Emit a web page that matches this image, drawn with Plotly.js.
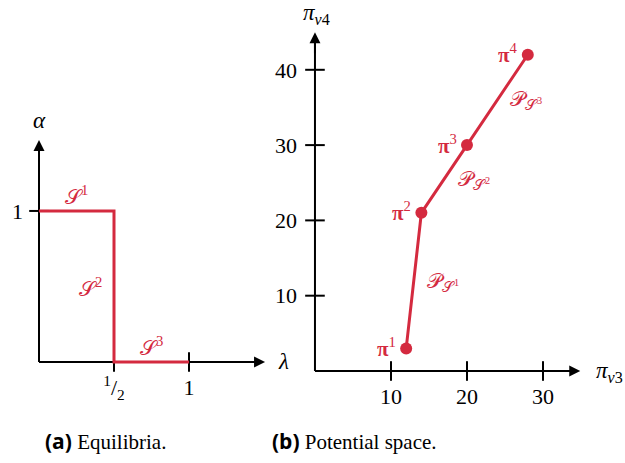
<!DOCTYPE html>
<html>
<head>
<meta charset="utf-8">
<script src="https://cdn.plot.ly/plotly-3.0.1.min.js"></script>
<style>html,body{margin:0;padding:0;background:#fff;}#chart{width:625px;height:463px;}</style>
</head>
<body>
<div id="chart"></div>
<script>
// ---- data ----
const lambdaVals = [0, 0.5, 0.5, 1];
const alphaVals = [1, 1, 0, 0];
const leftXTicks = [0.5, 1];
const leftXTickText = ['<sup>1</sup>/<sub>2</sub>', '1'];
const leftYTicks = [1];
const leftYTickText = ['1'];
const segLabels = ['𝒮<sup>1</sup>', '𝒮<sup>2</sup>', '𝒮<sup>3</sup>'];
const segLabelX = [0.16, 0.25, 0.66];
const segLabelY = [1.10, 0.49, 0.10];

const piV3 = [12, 14, 20, 28];
const piV4 = [3, 21, 30, 42];
const pointLabels = ['π', 'π', 'π', 'π'];
const pointSup = ['1', '2', '3', '4'];
const rightXTicks = [10, 20, 30];
const rightYTicks = [10, 20, 30, 40];
const polyLabels = ['𝒫<sub>𝒮<sup>1</sup></sub>', '𝒫<sub>𝒮<sup>2</sup></sub>', '𝒫<sub>𝒮<sup>3</sup></sub>'];
const polyLabelX = [14.5, 18.5, 25.4];
const polyLabelY = [11.8, 25.4, 36.0];

const RED = '#d42a3f';
const SERIF = 'Liberation Serif';

const traces = [
  {x: leftXTicks, y: leftXTicks.map(() => 0), xaxis: 'x', yaxis: 'y', mode: 'markers',
   marker: {symbol: 'line-ns', size: 14, line: {width: 2, color: '#000'}}, hoverinfo: 'skip'},
  {x: leftYTicks.map(() => 0), y: leftYTicks, xaxis: 'x', yaxis: 'y', mode: 'markers',
   marker: {symbol: 'line-ew', size: 14, line: {width: 2, color: '#000'}}, hoverinfo: 'skip'},
  {x: rightXTicks, y: rightXTicks.map(() => 0), xaxis: 'x2', yaxis: 'y2', mode: 'markers',
   marker: {symbol: 'line-ns', size: 14, line: {width: 2, color: '#000'}}, hoverinfo: 'skip'},
  {x: rightYTicks.map(() => 0), y: rightYTicks, xaxis: 'x2', yaxis: 'y2', mode: 'markers',
   marker: {symbol: 'line-ew', size: 14, line: {width: 2, color: '#000'}}, hoverinfo: 'skip'},
  {x: lambdaVals, y: alphaVals, xaxis: 'x', yaxis: 'y', mode: 'lines',
   line: {color: RED, width: 3}, hoverinfo: 'skip'},
  {x: piV3, y: piV4, xaxis: 'x2', yaxis: 'y2', mode: 'lines+markers',
   line: {color: RED, width: 3}, marker: {color: RED, size: 12}, hoverinfo: 'skip'}
];

const annotations = [];
function arrow(xr, yr, hx, hy, tx, ty) {
  annotations.push({xref: xr, yref: yr, axref: xr, ayref: yr, x: hx, y: hy, ax: tx, ay: ty,
    text: '', showarrow: true, arrowhead: 2, arrowsize: 1.1, arrowwidth: 2, arrowcolor: '#000'});
}
arrow('x', 'y', 1.507, 0, 1.40, 0);
arrow('x', 'y', 0, 1.47, 0, 1.40);
arrow('x2', 'y2', 34.9, 0, 32.8, 0);
arrow('x2', 'y2', 0, 45.0, 0, 42.0);

annotations.push({xref: 'x', yref: 'y', x: 0, y: 1.6, text: '<i>α</i>', showarrow: false,
  font: {family: SERIF, size: 23, color: '#000'}});
annotations.push({xref: 'x', yref: 'y', x: 1.63, y: 0, text: '<i>λ</i>', showarrow: false,
  font: {family: SERIF, size: 23, color: '#000'}});
annotations.push({xref: 'x2', yref: 'y2', x: 0.2, y: 47.4, text: '<i>π</i><sub><i>v</i>4</sub>', showarrow: false,
  font: {family: SERIF, size: 23, color: '#000'}});
annotations.push({xref: 'x2', yref: 'y2', x: 38.7, y: -0.2, text: '<i>π</i><sub><i>v</i>3</sub>', showarrow: false,
  font: {family: SERIF, size: 23, color: '#000'}});

segLabels.forEach((t, i) => annotations.push({xref: 'x', yref: 'y', x: segLabelX[i], y: segLabelY[i],
  xanchor: 'left', text: t, showarrow: false, font: {family: SERIF, size: 21, color: RED}}));
piV3.forEach((v, i) => annotations.push({xref: 'x2', yref: 'y2', x: v, y: piV4[i],
  xanchor: 'right', xshift: -8, yshift: 1, text: '<b>' + pointLabels[i] + '</b><sup>' + pointSup[i] + '</sup>',
  showarrow: false, font: {family: SERIF, size: 21, color: RED}}));
polyLabels.forEach((t, i) => annotations.push({xref: 'x2', yref: 'y2', x: polyLabelX[i], y: polyLabelY[i],
  xanchor: 'left', text: t, showarrow: false, font: {family: SERIF, size: 21, color: RED}}));

annotations.push({xref: 'paper', yref: 'paper', x: 105 / 625, y: 1 - 441 / 463, xanchor: 'center', yanchor: 'middle',
  text: '<span style="font-family:Open Sans;font-weight:bold">(a)</span> Equilibria.', showarrow: false,
  font: {family: SERIF, size: 21, color: '#000'}});
annotations.push({xref: 'paper', yref: 'paper', x: 355 / 625, y: 1 - 441 / 463, xanchor: 'center', yanchor: 'middle',
  text: '<span style="font-family:Open Sans;font-weight:bold">(b)</span> Potential space.', showarrow: false,
  font: {family: SERIF, size: 21, color: '#000'}});

const shapes = [
  {type: 'line', layer: 'below', xref: 'x', yref: 'y', x0: 0, y0: 0, x1: 1.45, y1: 0, line: {color: '#000', width: 2}},
  {type: 'line', layer: 'below', xref: 'x', yref: 'y', x0: 0, y0: 0, x1: 0, y1: 1.42, line: {color: '#000', width: 2}},
  {type: 'line', layer: 'below', xref: 'x2', yref: 'y2', x0: 0, y0: 0, x1: 33.5, y1: 0, line: {color: '#000', width: 2}},
  {type: 'line', layer: 'below', xref: 'x2', yref: 'y2', x0: 0, y0: 0, x1: 0, y1: 43.5, line: {color: '#000', width: 2}}
];

const axCommon = {showgrid: false, zeroline: false, showline: false, ticks: '', fixedrange: true,
  tickfont: {family: SERIF, size: 22, color: '#000'}};

const layout = {
  width: 625, height: 463,
  margin: {l: 0, r: 0, t: 0, b: 0},
  paper_bgcolor: '#fff', plot_bgcolor: 'rgba(0,0,0,0)',
  showlegend: false,
  font: {family: SERIF},
  xaxis: Object.assign({}, axCommon, {domain: [0, 0.48], range: [-0.26, 1.74], anchor: 'free', position: 101 / 463,
    tickmode: 'array', tickvals: leftXTicks, ticktext: leftXTickText, ticklabelstandoff: 10}),
  yaxis: Object.assign({}, axCommon, {domain: [0, 1], range: [-0.669, 2.397], anchor: 'free', position: 39 / 625,
    tickmode: 'array', tickvals: leftYTicks, ticktext: leftYTickText, ticklabelstandoff: 16}),
  xaxis2: Object.assign({}, axCommon, {domain: [0.48, 1], range: [-1.97, 40.79], anchor: 'free', position: 92 / 463,
    tickmode: 'array', tickvals: rightXTicks, ticktext: rightXTicks.map(String), ticklabelstandoff: 10}),
  yaxis2: Object.assign({}, axCommon, {domain: [0, 1], range: [-12.22, 49.27], anchor: 'free', position: 315 / 625,
    tickmode: 'array', tickvals: rightYTicks, ticktext: rightYTicks.map(String), ticklabelstandoff: 18}),
  shapes: shapes,
  annotations: annotations
};

Plotly.newPlot('chart', traces, layout, {staticPlot: true, displayModeBar: false});
</script>
</body>
</html>
